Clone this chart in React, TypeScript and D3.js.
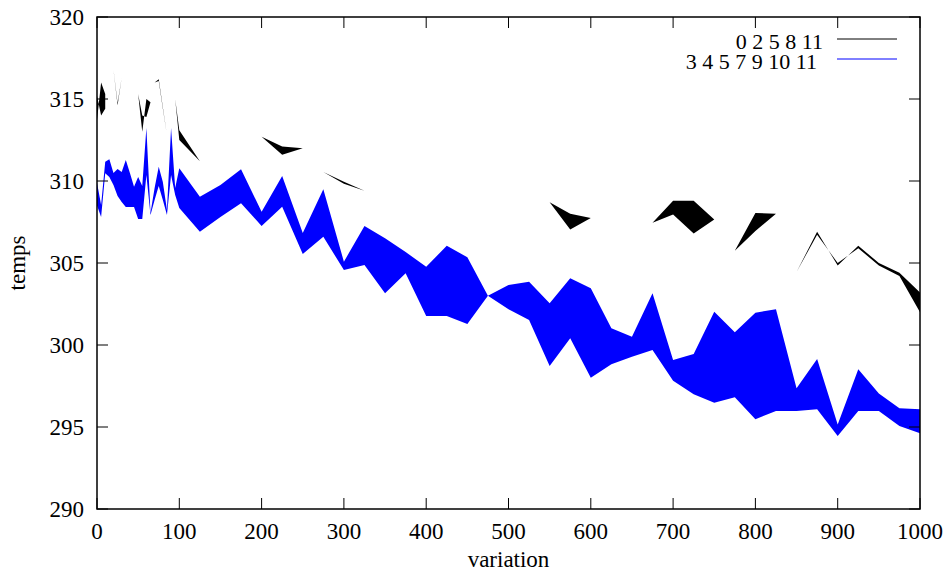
import React from "react";
import * as d3 from "d3";

// x positions of samples
const xs: number[] = [
  0, 5, 10, 15, 20, 25, 30, 35, 40, 45, 50, 55, 60, 65, 70, 75, 80, 85, 90, 95, 100,
  125, 150, 175, 200, 225, 250, 275, 300, 325, 350, 375, 400, 425, 450, 475, 500,
  525, 550, 575, 600, 625, 650, 675, 700, 725, 750, 775, 800, 825, 850, 875, 900,
  925, 950, 975, 1000,
];

// series "3 4 5 7 9 10 11" (blue) : two bounds
const blueA: number[] = [
  309.9, 308.54, 311.18, 311.32, 310.49, 310.73, 310.55, 311.28, 310.49, 309.65, 310.24,
  309.7, 313.23, 308.05, 309.57, 310.87, 309.94, 308.23, 313.23, 309.57, 310.77,
  309.04, 309.76, 310.71, 308.13, 310.3, 306.83, 309.49, 305.08, 307.26, 306.51, 305.67,
  304.77, 306.05, 305.35, 303.01, 303.66, 303.86, 302.54, 304.07, 303.46, 301.02, 300.51,
  303.15, 299.09, 299.45, 302.03, 300.77, 301.97, 302.18, 297.36, 299.15, 295.16, 298.52,
  297.05, 296.14, 296.08,
];
const blueB: number[] = [
  308.5, 307.8, 310.47, 310.24, 309.76, 309.09, 308.72, 308.41, 308.41, 308.41, 307.68,
  307.68, 310.37, 307.93, 308.84, 309.7, 308.84, 307.93, 310.37, 309.15, 308.35,
  306.91, 307.8, 308.64, 307.26, 308.43, 305.55, 306.6, 304.57, 304.88, 303.15, 304.37,
  301.77, 301.77, 301.28, 303.01, 302.18, 301.52, 298.72, 300.41, 298.01, 298.82, 299.29,
  299.7, 297.82, 296.99, 296.48, 296.81, 295.47, 295.98, 295.98, 296.08, 294.45, 295.98,
  295.98, 295.06, 294.62,
];

// series "0 2 5 8 11" (black) : two bounds, null = missing
const blackA: (number | null)[] = [
  313.7, 316.0, 315.3, null, 316.8, 314.75, 316.3, null, null, null, 315.3,
  313.0, 315.0, 314.8, 316.0, 316.2, 314.5, 312.8, 315.8, 315.0, 313.1,
  311.2, null, null, 312.7, 312.1, 312.0, 310.55, 309.95, 309.4, null, null,
  null, null, null, null, null, null, 308.7, 308.0, 307.75, null, null,
  307.45, 308.8, 308.8, 307.65, 305.75, 308.05, 308.0, 304.45, 306.9, 304.85, 306.05,
  305.0, 304.4, 303.2,
];
const blackB: (number | null)[] = [
  315.2, 314.0, 314.4, null, 316.8, 314.62, 316.3, null, null, null, 315.3,
  314.0, 313.9, 314.8, 316.0, 316.1, 314.42, 312.8, 315.8, 315.0, 312.5,
  311.2, null, null, 312.7, 311.6, 312.0, 310.55, 309.83, 309.4, null, null,
  null, null, null, null, null, null, 308.7, 307.05, 307.75, null, null,
  307.45, 307.95, 306.8, 307.65, 305.75, 306.95, 308.0, 304.45, 306.72, 305.0, 305.9,
  304.85, 304.2, 302.0,
];

const xTicks: number[] = [0, 100, 200, 300, 400, 500, 600, 700, 800, 900, 1000];
const yTicks: number[] = [290, 295, 300, 305, 310, 315, 320];
const legendLabels: string[] = ["0 2 5 8 11", "3 4 5 7 9 10 11"];
const axisTitles = { x: "variation", y: "temps" };

const W = 949;
const H = 571;
const L = 97;
const R = 920;
const T = 17;
const B = 509;
const FONT = "'Liberation Serif', 'Times New Roman', serif";

export default function App() {
  const x = d3.scaleLinear().domain([0, 1000]).range([L, R]);
  const y = d3.scaleLinear().domain([290, 320]).range([B, T]);

  type Row = { x: number; a: number | null; b: number | null };
  const blueRows: Row[] = xs.map((v, i) => ({ x: v, a: blueA[i], b: blueB[i] }));
  const blackRows: Row[] = xs.map((v, i) => ({ x: v, a: blackA[i], b: blackB[i] }));

  const area = d3
    .area<Row>()
    .defined((d) => d.a !== null && d.b !== null)
    .x((d) => x(d.x))
    .y0((d) => y(d.a as number))
    .y1((d) => y(d.b as number));

  const tickLen = 11;

  return (
    <svg
      width={W}
      height={H}
      style={{ position: "fixed", left: 0, top: 0, background: "#fff" }}
      fontFamily={FONT}
    >
      <rect x={0} y={0} width={W} height={H} fill="#fff" />
      <defs>
        <clipPath id="plotclip">
          <rect x={L} y={T} width={R - L} height={B - T} />
        </clipPath>
      </defs>
      <g clipPath="url(#plotclip)">
        <path d={area(blackRows) || ""} fill="#000" />
        <path d={area(blueRows) || ""} fill="#0000ff" />
      </g>

      {/* ticks */}
      {xTicks.map((t) => (
        <g key={"xt" + t}>
          <line x1={x(t)} x2={x(t)} y1={B} y2={B - tickLen} stroke="#000" strokeWidth={1} />
          <line x1={x(t)} x2={x(t)} y1={T} y2={T + tickLen} stroke="#000" strokeWidth={1} />
          <text x={x(t)} y={539} fontSize={23} textAnchor="middle" fill="#000">
            {t}
          </text>
        </g>
      ))}
      {yTicks.map((t) => (
        <g key={"yt" + t}>
          <line x1={L} x2={L + tickLen} y1={y(t)} y2={y(t)} stroke="#000" strokeWidth={1} />
          <line x1={R} x2={R - tickLen} y1={y(t)} y2={y(t)} stroke="#000" strokeWidth={1} />
          <text x={84} y={y(t) + 8} fontSize={23} textAnchor="end" fill="#000">
            {t}
          </text>
        </g>
      ))}

      {/* frame */}
      <rect x={L} y={T} width={R - L} height={B - T} fill="none" stroke="#000" strokeWidth={1.5} />

      {/* axis titles */}
      <text x={(L + R) / 2} y={567} fontSize={23} textAnchor="middle" fill="#000">
        {axisTitles.x}
      </text>
      <text
        transform={`translate(25, ${(T + B) / 2}) rotate(-90)`}
        fontSize={23}
        textAnchor="middle"
        fill="#000"
      >
        {axisTitles.y}
      </text>

      {/* legend */}
      <text x={823} y={49} fontSize={22} textAnchor="end" fill="#000">
        {legendLabels[0]}
      </text>
      <line x1={837} x2={897} y1={39} y2={39} stroke="#000" strokeWidth={1} />
      <text x={817} y={69} fontSize={22} textAnchor="end" fill="#000">
        {legendLabels[1]}
      </text>
      <line x1={837} x2={897} y1={59} y2={59} stroke="#0000ff" strokeWidth={1} />
    </svg>
  );
}
